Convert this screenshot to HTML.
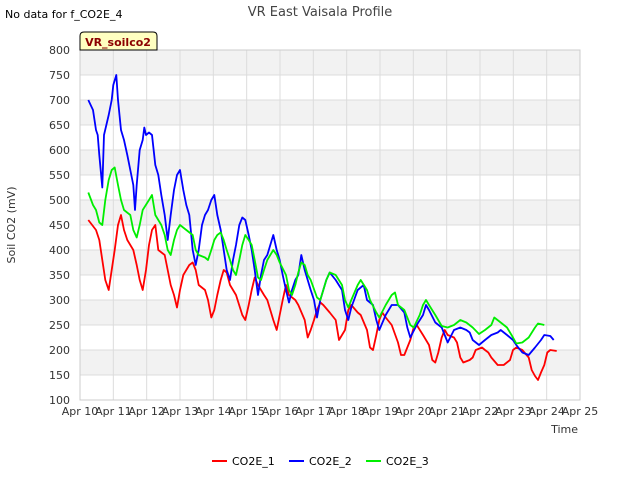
<!DOCTYPE html>
<html><head><meta charset="utf-8"><style>
body{margin:0;background:#fff;font-family:"Liberation Sans",sans-serif}
svg text{font-family:"DejaVu Sans","Liberation Sans",sans-serif}
</style></head><body>
<svg width="640" height="480" xmlns="http://www.w3.org/2000/svg" id="chart">
<rect width="640" height="480" fill="#fff"/>
<text x="5" y="18" font-size="11" fill="#000">No data for f_CO2E_4</text>
<text x="320" y="16" font-size="13" fill="#444" text-anchor="middle">VR East Vaisala Profile</text>
<g id="grid"></g>
<g id="axes"></g>
<g id="series"></g>
<text x="15" y="225" font-size="11" fill="#333" text-anchor="middle" transform="rotate(-90 15 225)">Soil CO2 (mV)</text>
<text x="578" y="433" font-size="11" fill="#333" text-anchor="end">Time</text>
<g>
<path d="M80,50 L80,36 Q80,32 84,32 L153,32 Q157,32 157,36 L157,50 Z" fill="#ffffc0" stroke="#000" stroke-width="1"/>
<text x="118" y="46" font-size="11" font-weight="bold" fill="#8b0000" text-anchor="middle">VR_soilco2</text>
</g>
<g id="legend"></g>
</svg>
<script>
const xTicks=["Apr 10","Apr 11","Apr 12","Apr 13","Apr 14","Apr 15","Apr 16","Apr 17","Apr 18","Apr 19","Apr 20","Apr 21","Apr 22","Apr 23","Apr 24","Apr 25"];
const yTicks=[100,150,200,250,300,350,400,450,500,550,600,650,700,750,800];
const seriesNames=["CO2E_1","CO2E_2","CO2E_3"];
const seriesColors=["#ff0000","#0000ff","#00ee00"];
const d1=[0.25,0.48,0.58,0.67,0.76,0.86,0.95,1.04,1.14,1.23,1.32,1.42,1.60,1.70,1.79,1.88,1.98,2.07,2.16,2.26,2.35,2.54,2.63,2.72,2.82,2.91,3.00,3.10,3.28,3.38,3.47,3.56,3.75,3.84,3.94,4.03,4.12,4.22,4.31,4.40,4.50,4.68,4.87,4.96,5.06,5.15,5.24,5.34,5.52,5.62,5.80,5.90,5.99,6.08,6.18,6.27,6.46,6.55,6.74,6.83,6.92,7.02,7.11,7.21,7.30,7.49,7.67,7.77,7.95,8.05,8.14,8.33,8.42,8.61,8.70,8.79,8.89,8.98,9.07,9.17,9.35,9.54,9.63,9.73,9.91,10.01,10.10,10.29,10.47,10.57,10.66,10.75,10.85,10.94,11.03,11.22,11.31,11.41,11.50,11.69,11.78,11.87,12.06,12.15,12.25,12.34,12.53,12.71,12.90,12.99,13.09,13.27,13.46,13.55,13.65,13.74,13.83,13.93,14.02,14.11,14.30];
const v1=[460,440,420,380,340,320,360,400,450,470,440,420,400,370,340,320,360,410,440,450,400,390,360,330,310,285,320,350,370,375,360,330,320,300,265,280,310,340,360,355,330,310,270,260,290,320,345,330,310,300,260,240,270,300,330,310,300,290,260,225,240,260,280,295,290,275,260,220,240,280,290,275,270,240,205,200,230,260,275,265,250,215,190,190,220,245,250,230,210,180,175,195,225,240,230,225,215,185,175,180,185,200,205,200,195,185,170,170,180,200,205,200,185,160,148,140,155,170,195,200,198];
const d2=[0.25,0.39,0.48,0.53,0.58,0.67,0.72,0.86,0.95,1.00,1.09,1.14,1.23,1.32,1.42,1.51,1.60,1.65,1.70,1.79,1.88,1.93,1.98,2.07,2.16,2.26,2.35,2.44,2.54,2.63,2.72,2.82,2.91,3.00,3.10,3.19,3.28,3.38,3.47,3.56,3.66,3.75,3.84,3.94,4.03,4.12,4.22,4.31,4.40,4.50,4.59,4.68,4.78,4.87,4.96,5.06,5.15,5.24,5.34,5.43,5.52,5.62,5.71,5.80,5.90,5.99,6.08,6.18,6.27,6.36,6.46,6.55,6.64,6.74,6.83,6.92,7.02,7.11,7.21,7.30,7.39,7.49,7.67,7.86,7.95,8.05,8.14,8.33,8.51,8.61,8.79,8.89,8.98,9.17,9.35,9.54,9.73,9.82,9.91,10.10,10.29,10.38,10.47,10.66,10.85,11.03,11.22,11.41,11.59,11.69,11.78,11.97,12.15,12.34,12.53,12.62,12.81,12.99,13.09,13.27,13.46,13.65,13.83,13.93,14.11,14.21];
const v2=[700,680,640,630,590,525,630,670,700,730,750,700,640,620,590,560,530,480,530,600,620,645,630,635,630,570,550,510,470,420,470,520,550,560,520,490,470,400,370,400,450,470,480,500,510,470,440,400,360,340,380,410,450,465,460,430,400,360,310,350,380,390,410,430,400,380,350,320,295,320,340,350,390,360,340,320,300,265,300,320,340,355,340,320,280,260,285,320,330,300,290,260,240,270,290,290,275,245,225,250,270,290,280,255,245,215,240,245,240,235,220,210,220,230,235,240,230,220,210,195,190,205,220,230,228,220];
const d3=[0.25,0.39,0.48,0.58,0.67,0.76,0.86,0.95,1.04,1.14,1.23,1.32,1.51,1.60,1.70,1.79,1.88,2.07,2.16,2.26,2.44,2.54,2.63,2.72,2.82,2.91,3.00,3.19,3.38,3.47,3.56,3.75,3.84,3.94,4.03,4.12,4.22,4.31,4.40,4.50,4.59,4.68,4.78,4.87,4.96,5.06,5.15,5.24,5.34,5.43,5.52,5.62,5.80,5.90,5.99,6.18,6.27,6.36,6.46,6.55,6.64,6.74,6.83,6.92,7.11,7.21,7.30,7.39,7.49,7.67,7.86,7.95,8.05,8.14,8.33,8.42,8.61,8.70,8.89,8.98,9.17,9.35,9.45,9.54,9.73,9.91,10.01,10.19,10.29,10.38,10.47,10.66,10.85,11.03,11.22,11.41,11.59,11.78,11.97,12.15,12.34,12.43,12.62,12.81,12.99,13.09,13.27,13.46,13.65,13.74,13.93];
const v3=[515,490,480,455,450,500,540,560,565,530,500,480,470,440,425,450,480,500,510,470,450,430,400,390,420,440,450,440,430,400,390,385,380,400,420,430,435,420,400,380,360,350,380,410,430,420,410,380,345,340,360,380,400,390,375,350,320,310,330,355,375,370,350,340,305,300,320,340,355,350,330,300,285,300,330,340,320,300,275,265,290,310,315,290,280,250,245,270,290,300,290,270,248,245,250,260,255,245,232,240,250,265,255,245,225,213,215,225,245,253,250];
const days=[d1,d2,d3], vals=[v1,v2,v3];
const NS="http://www.w3.org/2000/svg";
const X0=80,X1=580,Y0=400,Y1=50;
const xs=d=>X0+d*(X1-X0)/(xTicks.length-1);
const ys=v=>Y0-(v-yTicks[0])*(Y0-Y1)/(yTicks[yTicks.length-1]-yTicks[0]);
function mk(t,a,p){const e=document.createElementNS(NS,t);for(const k in a)e.setAttribute(k,a[k]);p.appendChild(e);return e;}
const grid=document.getElementById('grid'),axes=document.getElementById('axes'),ser=document.getElementById('series'),leg=document.getElementById('legend');
for(let i=0;i<yTicks.length-1;i++){
 const r=mk('rect',{x:X0,y:ys(yTicks[i+1]),width:X1-X0,height:ys(yTicks[i])-ys(yTicks[i+1]),fill:i%2?'#f2f2f2':'#ffffff'},grid);
 
 
}
yTicks.forEach(v=>{
 const l=mk('line',{x1:X0,x2:X1,y1:ys(v),y2:ys(v),stroke:'#dcdcdc','stroke-width':1},grid);
 
 
 const t=mk('text',{x:X0-10,y:ys(v)+4,'font-size':11,fill:'#333','text-anchor':'end'},axes);t.textContent=v;
 
 
});
xTicks.forEach((s,i)=>{
 const x=xs(i);
 const l=mk('line',{x1:x,x2:x,y1:Y1,y2:Y0,stroke:'#dcdcdc','stroke-width':1},grid);
 
 
 const t=mk('text',{x:x,y:Y0+15,'font-size':11,fill:'#333','text-anchor':'middle'},axes);t.textContent=s;
 
 
});
mk('rect',{x:X0,y:Y1,width:X1-X0,height:Y0-Y1,fill:'none',stroke:'#ccc'},axes);
seriesNames.forEach((n,s)=>{
 const pts=days[s].map((d,i)=>xs(d).toFixed(1)+','+ys(vals[s][i]).toFixed(1)).join(' ');
 const p=mk('polyline',{points:pts,fill:'none',stroke:seriesColors[s],'stroke-width':1.8,'stroke-linejoin':'round'},ser);
 
 
 const lx=[212,289,366][s];
 const g=mk('g',{},leg);
 
 
 mk('line',{x1:lx,x2:lx+15,y1:461,y2:461,stroke:seriesColors[s],'stroke-width':2},g);
 const t=mk('text',{x:lx+20,y:465,'font-size':11,fill:'#000'},g);t.textContent=n;
});
</script>
</body></html>
